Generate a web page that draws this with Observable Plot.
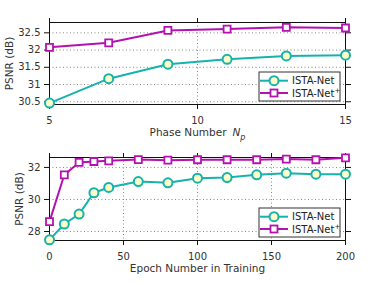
<!DOCTYPE html>
<html><head><meta charset="utf-8">
<script src="https://cdn.jsdelivr.net/npm/d3@7"></script>
<script src="https://cdn.jsdelivr.net/npm/@observablehq/plot@0.6"></script>
<style>body{margin:0;background:#fff} #c svg{display:block}</style>
</head><body><div id="c"></div>
<script>
const seriesNames = ["ISTA-Net", "ISTA-Net+"];
const phaseNumbers = [5, 7, 9, 11, 13, 15];
const phaseIsta = [30.46, 31.17, 31.59, 31.73, 31.83, 31.85];
const phaseIstaPlus = [32.08, 32.21, 32.57, 32.61, 32.66, 32.64];
const epochs = [0, 10, 20, 30, 40, 60, 80, 100, 120, 140, 160, 180, 200];
const epochIsta = [27.48, 28.47, 29.09, 30.42, 30.75, 31.12, 31.04, 31.33, 31.37, 31.54, 31.64, 31.58, 31.58];
const epochIstaPlus = [28.62, 31.54, 32.31, 32.37, 32.41, 32.49, 32.45, 32.48, 32.48, 32.48, 32.52, 32.48, 32.6];
const topXTicks = [5, 10, 15];
const topYTicks = [30.5, 31, 31.5, 32, 32.5];
const botXTicks = [0, 50, 100, 150, 200];
const botYTicks = [28, 30, 32];
const yLabel = "PSNR (dB)";
const topXLabel = "Phase Number N_p";
const botXLabel = "Epoch Number in Training";

const teal = "#17b2ad";
const magenta = "#b312b0";
const circleFill = "#ffffc8";

function legendMark() {
  return (index, scales, values, dims) => {
    const g = d3.create("svg:g");
    const w = 81, h = 29;
    const x0 = dims.width - dims.marginRight - 5 - w;
    const y0 = dims.height - dims.marginBottom - 3 - h;
    g.append("rect").attr("x", x0).attr("y", y0).attr("width", w).attr("height", h)
      .attr("fill", "white").attr("stroke", "#333").attr("stroke-width", 1);
    const rows = [
      {name: seriesNames[0], color: teal, sym: "circle", dy: 8.7},
      {name: seriesNames[1], color: magenta, sym: "square", dy: 21}
    ];
    for (const r of rows) {
      const yy = y0 + r.dy;
      g.append("line").attr("x1", x0 + 1).attr("x2", x0 + 29).attr("y1", yy).attr("y2", yy)
        .attr("stroke", r.color).attr("stroke-width", 2);
      if (r.sym === "circle") {
        g.append("circle").attr("cx", x0 + 15).attr("cy", yy).attr("r", 4.5)
          .attr("fill", circleFill).attr("stroke", r.color).attr("stroke-width", 2);
      } else {
        g.append("rect").attr("x", x0 + 15 - 3.5).attr("y", yy - 3.5).attr("width", 7).attr("height", 7)
          .attr("fill", "white").attr("stroke", r.color).attr("stroke-width", 1.8);
      }
      const t = g.append("text").attr("x", x0 + 33).attr("y", yy).attr("dy", "0.35em")
        .attr("text-anchor", "start").attr("font-size", 10).attr("fill", "#222");
      if (r.name.endsWith("+")) {
        t.append("tspan").text(r.name.slice(0, -1));
        t.append("tspan").attr("dy", -4).attr("font-size", 7).text("+");
      } else t.text(r.name);
    }
    return g.node();
  };
}

function makeChart(opts) {
  const {xs, a, b, xDomain, yDomain, xTicks, yTicks, xLabel, height, marginTop, marginBottom, yLabelDx} = opts;
  const dataA = xs.map((x, i) => ({x, y: a[i]}));
  const dataB = xs.map((x, i) => ({x, y: b[i]}));
  const fmt = d => String(d);
  const svg = Plot.plot({
    width: 381, height, marginLeft: 49, marginRight: 36, marginTop, marginBottom,
    style: {fontFamily: "DejaVu Sans, sans-serif", fontSize: "10px", background: "white", color: "#111"},
    x: {domain: xDomain},
    y: {domain: yDomain},
    marks: [
      Plot.gridY(yTicks, {stroke: "#888", strokeOpacity: 1, strokeDasharray: "1,2.5"}),
      Plot.gridX(xTicks, {stroke: "#888", strokeOpacity: 1, strokeDasharray: "1,2.5"}),
      Plot.frame({stroke: "#111"}),
      Plot.axisY(yTicks, {anchor: "left", tickSize: 5, tickPadding: 4, tickFormat: fmt, label: null, fill: "#333"}),
      Plot.axisY(yTicks, {anchor: "right", tickSize: 5, tickFormat: () => "", label: null}),
      Plot.axisX(xTicks, {anchor: "bottom", tickSize: 5, tickPadding: 7, tickFormat: fmt, label: null, fill: "#333"}),
      Plot.axisX(xTicks, {anchor: "top", tickSize: 5, tickFormat: () => "", label: null}),
      Plot.line(dataA, {x: "x", y: "y", stroke: teal, strokeWidth: 2}),
      Plot.line(dataB, {x: "x", y: "y", stroke: magenta, strokeWidth: 2}),
      Plot.dot(dataA, {x: "x", y: "y", r: 4.5, stroke: teal, strokeWidth: 2, fill: circleFill}),
      Plot.dot(dataB, {x: "x", y: "y", symbol: "square", r: 3.95, stroke: magenta, strokeWidth: 1.8, fill: "white"}),
      Plot.text([yLabel], {text: d => d, frameAnchor: "left", rotate: -90, dx: yLabelDx, textAnchor: "middle", lineAnchor: "middle", fontSize: 10.5, fill: "#333"}),
      Plot.text([xLabel], {text: d => d, frameAnchor: "bottom", dy: 28, textAnchor: "middle", lineAnchor: "middle", fontSize: 10.5, fill: "#333"}),
      legendMark()
    ]
  });
  d3.select(svg).selectAll("text").filter(function() { return this.textContent === topXLabel; })
    .each(function() {
      const t = d3.select(this);
      t.text("");
      t.append("tspan").text("Phase Number");
      t.append("tspan").attr("dx", 6).attr("font-style", "italic").text("N");
      t.append("tspan").attr("dy", 4).attr("font-size", 8).attr("font-style", "italic").text("p");
    });
  return svg;
}

const c = document.getElementById("c");
c.append(makeChart({
  xs: phaseNumbers, a: phaseIsta, b: phaseIstaPlus, xDomain: [5, 15], yDomain: [30.42, 32.8],
  xTicks: topXTicks, yTicks: topYTicks, xLabel: topXLabel, height: 143, marginTop: 22, marginBottom: 39, yLabelDx: -40
}));
c.append(makeChart({
  xs: epochs, a: epochIsta, b: epochIstaPlus, xDomain: [0, 200], yDomain: [27.44, 32.62],
  xTicks: botXTicks, yTicks: botYTicks, xLabel: botXLabel, height: 144, marginTop: 14, marginBottom: 47, yLabelDx: -30
}));
</script></body></html>
